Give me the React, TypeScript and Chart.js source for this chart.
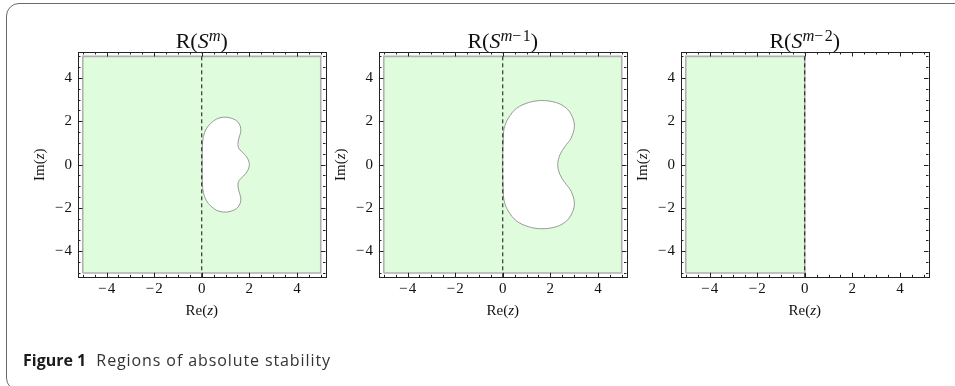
import React, { useEffect, useRef } from "react";
import { Chart, registerables } from "chart.js";

Chart.register(...registerables);

// ---------- data ----------
const axisMin = -5.2;
const axisMax = 5.2;
const majorTicks = [-4, -2, 0, 2, 4];
const minorTicks = [-5, -4.5, -3.5, -3, -2.5, -1.5, -1, -0.5, 0.5, 1, 1.5, 2.5, 3, 3.5, 4.5, 5];

// full stable box (-5..5)
const boxX = [-5, 5, 5, -5, -5];
const boxY = [-5, -5, 5, 5, -5];
// half-plane box for R(S^{m-2}) (Re z <= 0)
const halfBoxX = [-5, 0, 0, -5, -5];
const halfBoxY = [-5, -5, 5, 5, -5];

// unstable hole of R(S^m)
const hole1X = [0.02, 0.02, 0.03, 0.07, 0.19, 0.38, 0.63, 0.91, 1.19, 1.47, 1.61, 1.64, 1.56, 1.52, 1.57, 1.75, 1.92, 2.0,
  1.92, 1.75, 1.57, 1.52, 1.56, 1.64, 1.61, 1.47, 1.19, 0.91, 0.63, 0.38, 0.19, 0.07, 0.03, 0.02, 0.02];
const hole1Y = [0, -0.45, -0.91, -1.3, -1.65, -1.91, -2.11, -2.19, -2.16, -2.02, -1.8, -1.53, -1.22, -0.94, -0.73, -0.53, -0.3, 0,
  0.3, 0.53, 0.73, 0.94, 1.22, 1.53, 1.8, 2.02, 2.16, 2.19, 2.11, 1.91, 1.65, 1.3, 0.91, 0.45, 0];

// unstable hole of R(S^{m-1})
const hole2X = [0, 0, 0.02, 0.06, 0.23, 0.58, 1.07, 1.63, 2.26, 2.68, 2.92, 3.01, 2.87, 2.61, 2.4, 2.31,
  2.4, 2.61, 2.87, 3.01, 2.92, 2.68, 2.26, 1.63, 1.07, 0.58, 0.23, 0.06, 0.02, 0, 0];
const hole2Y = [0, -0.5, -1.14, -1.68, -2.14, -2.6, -2.86, -2.96, -2.86, -2.6, -2.22, -1.76, -1.22, -0.83, -0.45, 0,
  0.45, 0.83, 1.22, 1.76, 2.22, 2.6, 2.86, 2.96, 2.86, 2.6, 2.14, 1.68, 1.14, 0.5, 0];

const dashX = [0, 0];
const dashY = [-5.2, 5.2];

const GREEN = "rgb(223,252,220)";
const EDGE = "#b0b0b0";
const SERIF = '"Liberation Serif", "DejaVu Serif", serif';

type Part = { t: string; font: string; dy?: number };

const pts = (xs: number[], ys: number[]) => xs.map((x, i) => ({ x, y: ys[i] }));

function drawRich(ctx: CanvasRenderingContext2D, parts: Part[], cx: number, baseY: number) {
  let total = 0;
  parts.forEach((p) => {
    ctx.font = p.font;
    total += ctx.measureText(p.t).width;
  });
  let x = cx - total / 2;
  ctx.textAlign = "left";
  ctx.textBaseline = "alphabetic";
  parts.forEach((p) => {
    ctx.font = p.font;
    ctx.fillText(p.t, x, baseY + (p.dy || 0));
    x += ctx.measureText(p.t).width;
  });
}

const fmt = (v: number) => (v < 0 ? "\u2212\u200A" + Math.abs(v) : String(v));

const LBL = "15px " + SERIF;
const LBLI = "italic 15px " + SERIF;

const framePlugin = {
  id: "framePlugin",
  afterDraw(chart: any) {
    const ctx: CanvasRenderingContext2D = chart.ctx;
    const { left, right, top, bottom } = chart.chartArea;
    const xs = chart.scales.x;
    const ys = chart.scales.y;
    const title: Part[] = chart.options.plugins.framePlugin.title;
    ctx.save();
    // frame
    ctx.strokeStyle = "#222";
    ctx.lineWidth = 1;
    ctx.strokeRect(Math.round(left) + 0.5, Math.round(top) + 0.5, Math.round(right - left), Math.round(bottom - top));
    const tick = (v: number, len: number) => {
      const px = Math.round(xs.getPixelForValue(v)) + 0.5;
      const py = Math.round(ys.getPixelForValue(v)) + 0.5;
      ctx.beginPath();
      ctx.moveTo(px, bottom); ctx.lineTo(px, bottom - len);
      ctx.moveTo(px, top); ctx.lineTo(px, top + len);
      ctx.moveTo(left, py); ctx.lineTo(left + len, py);
      ctx.moveTo(right, py); ctx.lineTo(right - len, py);
      ctx.stroke();
    };
    majorTicks.forEach((v) => tick(v, 4.5));
    minorTicks.forEach((v) => tick(v, 2.5));
    // tick labels
    ctx.fillStyle = "#111";
    ctx.font = LBL;
    ctx.textBaseline = "middle";
    ctx.textAlign = "center";
    majorTicks.forEach((v) => ctx.fillText(fmt(v), xs.getPixelForValue(v), bottom + 12));
    ctx.textAlign = "right";
    majorTicks.forEach((v) => ctx.fillText(fmt(v), left - 6, ys.getPixelForValue(v)));
    // axis titles
    const cx = (left + right) / 2;
    const cy = (top + bottom) / 2;
    drawRich(ctx, [
      { t: "Re(", font: LBL },
      { t: "z", font: LBLI },
      { t: ")", font: LBL },
    ], cx, bottom + 37.5);
    ctx.save();
    ctx.translate(left - 39, cy);
    ctx.rotate(-Math.PI / 2);
    drawRich(ctx, [
      { t: "Im(", font: LBL },
      { t: "z", font: LBLI },
      { t: ")", font: LBL },
    ], 0, 5);
    ctx.restore();
    // title
    drawRich(ctx, title, cx, top - 4.5);
    ctx.restore();
  },
};

const T = "22px " + SERIF;
const TI = "italic 22px " + SERIF;
const S = "16px " + SERIF;
const SI = "italic 16.5px " + SERIF;

const titles: Part[][] = [
  [{ t: "R(", font: T }, { t: "S", font: TI }, { t: "m", font: SI, dy: -7 }, { t: ")", font: T }],
  [{ t: "R(", font: T }, { t: "S", font: TI }, { t: "m", font: SI, dy: -7 }, { t: "\u2212\u200A1", font: S, dy: -7 }, { t: ")", font: T }],
  [{ t: "R(", font: T }, { t: "S", font: TI }, { t: "m", font: SI, dy: -7 }, { t: "\u2212\u200A2", font: S, dy: -7 }, { t: ")", font: T }],
];

const CW = 340;
const CH = 386;
const PAD_L = 80;
const PLOT_W = 247.5;
const PAD_T = 52;
const PAD_B = CH - 277.3;
const plotLefts = [78, 379.2, 680.7];

function Panel({ index }: { index: number }) {
  const ref = useRef<HTMLCanvasElement>(null);
  useEffect(() => {
    if (!ref.current) return;
    const region = index === 2 ? pts(halfBoxX, halfBoxY) : pts(boxX, boxY);
    const datasets: any[] = [
      {
        data: region,
        showLine: true,
        fill: "shape",
        backgroundColor: GREEN,
        borderColor: EDGE,
        borderWidth: 1.6,
        pointRadius: 0,
        tension: 0,
        order: 3,
      },
    ];
    if (index < 2) {
      const hx = index === 0 ? hole1X : hole2X;
      const hy = index === 0 ? hole1Y : hole2Y;
      datasets.push({
        data: pts(hx, hy),
        showLine: true,
        fill: "shape",
        backgroundColor: "#ffffff",
        borderColor: "#9a9a9a",
        borderWidth: 1,
        pointRadius: 0,
        tension: 0.35,
        order: 2,
      });
    }
    datasets.push({
      data: pts(dashX, dashY),
      showLine: true,
      fill: false,
      borderColor: "#111",
      borderWidth: 1,
      borderDash: [4, 3],
      pointRadius: 0,
      order: 1,
    });
    const chart = new Chart(ref.current, {
      type: "scatter",
      data: { datasets },
      plugins: [framePlugin],
      options: {
        animation: false,
        responsive: false,
        devicePixelRatio: 1,
        layout: { padding: { left: PAD_L, right: CW - PAD_L - PLOT_W, top: PAD_T, bottom: PAD_B } },
        scales: {
          x: { type: "linear", min: axisMin, max: axisMax, display: false },
          y: { type: "linear", min: axisMin, max: axisMax, display: false },
        },
        plugins: {
          legend: { display: false },
          tooltip: { enabled: false },
          framePlugin: { title: titles[index] },
        } as any,
      },
    });
    return () => chart.destroy();
  }, [index]);
  return (
    <canvas
      ref={ref}
      width={CW}
      height={CH}
      style={{ position: "absolute", left: plotLefts[index] - PAD_L, top: 0, width: CW, height: CH }}
    />
  );
}

export default function App() {
  return (
    <div style={{ position: "absolute", left: 0, top: 0, width: 955, height: 386, overflow: "hidden", background: "#fff" }}>
      <div
        style={{
          position: "absolute",
          left: 6,
          top: 3,
          width: 1000,
          height: 388,
          border: "1.5px solid #6a6a6a",
          borderRadius: 13,
          boxSizing: "border-box",
        }}
      />
      <Panel index={0} />
      <Panel index={1} />
      <Panel index={2} />
      <div
        style={{
          position: "absolute",
          left: 23,
          top: 349,
          fontFamily: '"Open Sans", "Noto Sans", sans-serif',
          fontSize: 16,
          color: "#333",
          whiteSpace: "pre",
          lineHeight: "22px",
        }}
      >
        <span style={{ fontWeight: 700, color: "#1a1a1a" }}>Figure 1</span>
        <span style={{ letterSpacing: 0.9 }}>{"  Regions of absolute stability"}</span>
      </div>
    </div>
  );
}
